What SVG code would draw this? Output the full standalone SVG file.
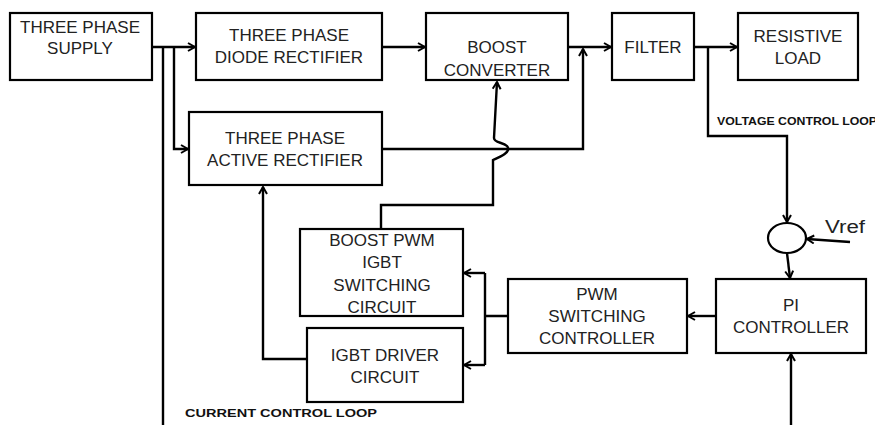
<svg xmlns="http://www.w3.org/2000/svg" width="875" height="425" viewBox="0 0 875 425">
<defs>
<style>
.box{fill:#fff;stroke:#000;stroke-width:2.2}
.t{font-family:"Liberation Sans",Arial,sans-serif;font-size:17px;fill:#222;text-anchor:middle}
.w{fill:none;stroke:#000;stroke-width:2.4;stroke-linejoin:miter}
.lbl{font-family:"Liberation Sans",Arial,sans-serif;font-weight:bold;font-size:10px;fill:#111}
</style>
<marker id="ah" viewBox="0 0 10 10" refX="9" refY="5" markerWidth="10" markerHeight="10" markerUnits="userSpaceOnUse" orient="auto">
<path d="M2,1 L9,5 L2,9" fill="none" stroke="#000" stroke-width="2"/>
</marker>
</defs>
<rect width="875" height="425" fill="#fff"/>

<g id="supply"><rect class="box" x="10" y="13" width="142" height="67"/>
<text class="t" x="80" y="33">THREE PHASE</text><text class="t" x="80" y="54">SUPPLY</text></g>

<g id="diode"><rect class="box" x="196" y="13" width="186" height="67"/>
<text class="t" x="289" y="41">THREE PHASE</text><text class="t" x="289" y="63">DIODE RECTIFIER</text></g>

<g id="boost"><rect class="box" x="426" y="13" width="142" height="67"/>
<text class="t" x="497" y="53">BOOST</text><text class="t" x="497" y="76">CONVERTER</text></g>

<g id="filter"><rect class="box" x="612" y="13" width="82" height="67"/>
<text class="t" x="653" y="53">FILTER</text></g>

<g id="load"><rect class="box" x="738" y="13" width="120" height="67"/>
<text class="t" x="798" y="42">RESISTIVE</text><text class="t" x="798" y="64">LOAD</text></g>

<g id="active"><rect class="box" x="189" y="112" width="193" height="73"/>
<text class="t" x="285" y="144">THREE PHASE</text><text class="t" x="285" y="166">ACTIVE RECTIFIER</text></g>

<g id="boostpwm"><rect class="box" x="300" y="229" width="163" height="87"/>
<text class="t" x="382" y="246">BOOST PWM</text><text class="t" x="382" y="268">IGBT</text><text class="t" x="382" y="291">SWITCHING</text><text class="t" x="382" y="313">CIRCUIT</text></g>

<g id="driver"><rect class="box" x="307" y="328" width="156" height="74"/>
<text class="t" x="385" y="361">IGBT DRIVER</text><text class="t" x="385" y="383">CIRCUIT</text></g>

<g id="pwm"><rect class="box" x="508" y="279" width="179" height="74"/>
<text class="t" x="597" y="300">PWM</text><text class="t" x="597" y="322">SWITCHING</text><text class="t" x="597" y="344">CONTROLLER</text></g>

<g id="pi"><rect class="box" x="716" y="279" width="150" height="74"/>
<text class="t" x="791" y="311">PI</text><text class="t" x="791" y="333">CONTROLLER</text></g>

<g id="sum"><ellipse cx="787" cy="238" rx="19" ry="15" fill="#fff" stroke="#000" stroke-width="2.2"/></g>

<g id="connectors">
<path class="w" d="M152,47 H195" marker-end="url(#ah)"/>
<path class="w" d="M163,47 V425"/>
<path class="w" d="M174,47 V149 H188" marker-end="url(#ah)"/>
<path class="w" d="M382,47 H425" marker-end="url(#ah)"/>
<path class="w" d="M568,47 H611" marker-end="url(#ah)"/>
<path class="w" d="M694,47 H737" marker-end="url(#ah)"/>
<path class="w" d="M382,149 H583 V49" marker-end="url(#ah)"/>
<path class="w" d="M381,229 V205 H493 V160 C500,157 512,152 507,146 C503,142 494,143 494,138 L497,82" marker-end="url(#ah)"/>
<path class="w" d="M307,359 H263 V187" marker-end="url(#ah)"/>
<path class="w" d="M508,316 H485 M485,273 V365"/>
<path class="w" d="M485,273 H464" marker-end="url(#ah)"/>
<path class="w" d="M485,365 H464" marker-end="url(#ah)"/>
<path class="w" d="M716,316 H688" marker-end="url(#ah)"/>
<path class="w" d="M708,47 V136 H787 V222" marker-end="url(#ah)"/>
<path class="w" d="M850,242 L807,239" marker-end="url(#ah)"/>
<path class="w" d="M787,253 L790,278" marker-end="url(#ah)"/>
<path class="w" d="M791,425 V354" marker-end="url(#ah)"/>
</g>

<text x="825" y="233" font-family="'Liberation Sans',Arial,sans-serif" font-size="18" fill="#222" textLength="40" lengthAdjust="spacingAndGlyphs">Vref</text>
<text class="lbl" x="717" y="125" textLength="160" lengthAdjust="spacingAndGlyphs">VOLTAGE CONTROL LOOP</text>
<text class="lbl" x="185" y="417" textLength="192" lengthAdjust="spacingAndGlyphs">CURRENT CONTROL LOOP</text>
</svg>
